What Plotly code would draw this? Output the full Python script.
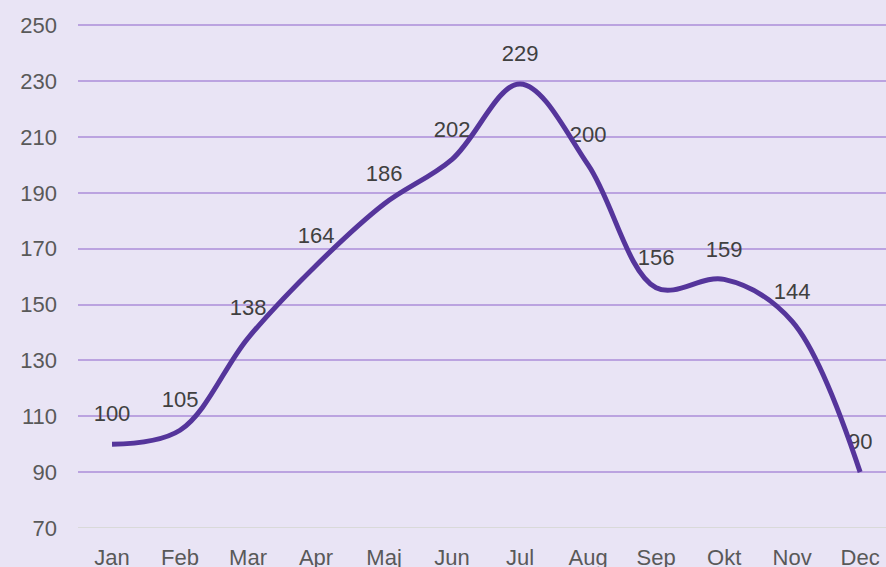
import plotly.graph_objects as go

months = ["Jan", "Feb", "Mar", "Apr", "Maj", "Jun", "Jul", "Aug", "Sep", "Okt", "Nov", "Dec"]
values = [100, 105, 138, 164, 186, 202, 229, 200, 156, 159, 144, 90]
y_ticks = [70, 90, 110, 130, 150, 170, 190, 210, 230, 250]

BG = "#E9E4F5"
LINE = "#55359B"
GRID = "#BBA3E0"
FONT = "Liberation Sans, Arial"

x_idx = list(range(len(months)))

fig = go.Figure()
# data labels drawn first so the line sits on top of them
fig.add_trace(go.Scatter(
    x=x_idx, y=values, mode="markers+text",
    text=[str(v) for v in values], textposition="top center",
    textfont=dict(family=FONT, size=22, color="#404040"),
    marker=dict(size=26, color="rgba(0,0,0,0)"),
    hoverinfo="skip", showlegend=False, cliponaxis=False,
))
fig.add_trace(go.Scatter(
    x=x_idx, y=values, mode="lines",
    line=dict(color=LINE, width=5, shape="spline", smoothing=1.0),
    hoverinfo="skip", showlegend=False,
))

fig.update_layout(
    width=886, height=567,
    margin=dict(l=78, r=0, t=23, b=39),
    paper_bgcolor=BG, plot_bgcolor=BG,
    font=dict(family=FONT, size=22, color="#595959"),
    xaxis=dict(
        tickmode="array", tickvals=x_idx, ticktext=months,
        range=[-0.5, 11.38], showgrid=False, zeroline=False, showline=False,
        ticks="", ticklabelstandoff=14, automargin=False,
    ),
    yaxis=dict(
        range=[70, 250.8], tickvals=y_ticks, showgrid=True, gridcolor=GRID, gridwidth=2,
        zeroline=False, showline=False, ticks="", ticklabelstandoff=20, automargin=False,
    ),
)
fig.add_hline(y=70, line=dict(color="#D9D9D9", width=2), layer="below")

fig.write_html("out.html", config={"displayModeBar": False})

with open("out.html", "r", encoding="utf-8") as f:
    html = f.read()
html = html.replace("<head>", "<head><style>html,body{margin:0;padding:0;overflow:hidden;}</style>", 1)
with open("out.html", "w", encoding="utf-8") as f:
    f.write(html)
